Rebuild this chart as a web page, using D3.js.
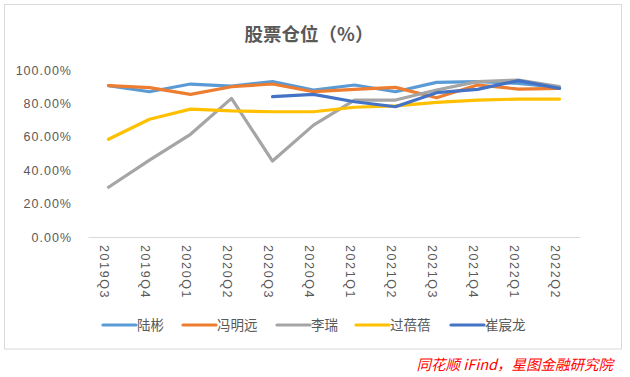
<!DOCTYPE html>
<html><head><meta charset="utf-8">
<script src="https://cdn.jsdelivr.net/npm/d3@7"></script>
<style>
body{margin:0;background:#fff;}
svg{display:block;font-family:"Liberation Sans","Noto Sans CJK SC",sans-serif;}
</style></head>
<body><svg id="c" width="630" height="377"></svg>
<script>
const categories = ["2019Q3","2019Q4","2020Q1","2020Q2","2020Q3","2020Q4","2021Q1","2021Q2","2021Q3","2021Q4","2022Q1","2022Q2"];
const seriesNames = ["陆彬","冯明远","李瑞","过蓓蓓","崔宸龙"];
const luBin      = [0.906,0.870,0.916,0.904,0.930,0.880,0.910,0.870,0.926,0.930,0.920,0.896];
const fengMingYuan = [0.906,0.894,0.854,0.900,0.916,0.870,0.884,0.896,0.834,0.910,0.886,0.890];
const liRui      = [0.298,0.460,0.615,0.830,0.455,0.670,0.820,0.820,0.880,0.930,0.940,0.900];
const guoBeiBei  = [0.585,0.705,0.766,0.755,0.750,0.750,0.777,0.785,0.806,0.820,0.826,0.826];
const cuiChenLong = [null,null,null,null,0.840,0.854,0.810,0.780,0.864,0.884,0.936,0.890];
const yTicks = [0,0.2,0.4,0.6,0.8,1.0];
const colors = ["#5B9BD5","#ED7D31","#A5A5A5","#FFC000","#4472C4"];
const title = "股票仓位（%）";
const source = "同花顺 iFind，星图金融研究院";

const allSeries = [luBin, fengMingYuan, liRui, guoBeiBei, cuiChenLong];
const svg = d3.select("#c");

svg.append("rect").attr("x",4.5).attr("y",4.5).attr("width",617).attr("height",344.5)
  .attr("fill","#fff").attr("stroke","#d9d9d9").attr("stroke-width",1);

const x = d3.scaleBand().domain(categories).range([88,580]);
const y = d3.scaleLinear().domain([0,1]).range([237,70]);

svg.append("text").attr("x",309).attr("y",41).attr("text-anchor","middle")
  .attr("font-family","'Noto Sans CJK SC',sans-serif").attr("font-weight","bold")
  .attr("font-size",18.5).attr("fill","#595959").text(title);

// y axis labels
const fmt = d3.format(".2%");
const yAxis = d3.axisLeft(y).tickValues(yTicks).tickFormat(fmt).tickSize(0).tickPadding(0);
const gy = svg.append("g").attr("transform","translate(72,0)").call(yAxis);
gy.select(".domain").remove();
gy.selectAll("text").attr("font-size",12.5).attr("fill","#595959")
  .attr("letter-spacing","1px").attr("font-family","'Liberation Sans',sans-serif");

// x axis
const xAxis = d3.axisBottom(x).tickSize(0).tickPadding(0);
const gx = svg.append("g").attr("transform","translate(0,237)").call(xAxis);
gx.select(".domain").attr("stroke","#d9d9d9").attr("stroke-width",1);
gx.selectAll("text")
  .attr("font-size",12.5).attr("fill","#595959").attr("letter-spacing","1.6px")
  .attr("font-family","'Liberation Sans',sans-serif")
  .attr("text-anchor","start").attr("dy",null).attr("y",0)
  .attr("transform","translate(-5,8) rotate(90)")
  .attr("dominant-baseline","middle");

// lines
const line = d3.line()
  .defined(d => d.v !== null)
  .x(d => x(d.c) + x.bandwidth()/2)
  .y(d => y(d.v));
allSeries.forEach((s,i) => {
  const data = categories.map((c,j) => ({c, v: s[j]}));
  svg.append("path").datum(data).attr("d",line)
    .attr("fill","none").attr("stroke",colors[i]).attr("stroke-width",3.2)
    .attr("stroke-linejoin","round").attr("stroke-linecap","round");
});

// legend
const legendX = [103,183,277,356,451];
seriesNames.forEach((n,i) => {
  const g = svg.append("g").attr("transform",`translate(${legendX[i]},325)`);
  g.append("line").attr("x1",0).attr("x2",33).attr("y1",0).attr("y2",0)
    .attr("stroke",colors[i]).attr("stroke-width",3.2).attr("stroke-linecap","round");
  g.append("text").attr("x",34).attr("y",0).attr("dy","0.35em")
    .attr("font-family","'Noto Sans CJK SC',sans-serif")
    .attr("font-size",13.5).attr("fill","#595959").text(n);
});

svg.append("text").attr("x",613).attr("y",370).attr("text-anchor","end")
  .attr("font-family","'Noto Sans CJK SC',sans-serif").attr("font-style","italic")
  .attr("font-size",14.5).attr("fill","#FF0000").text(source);
</script></body></html>
